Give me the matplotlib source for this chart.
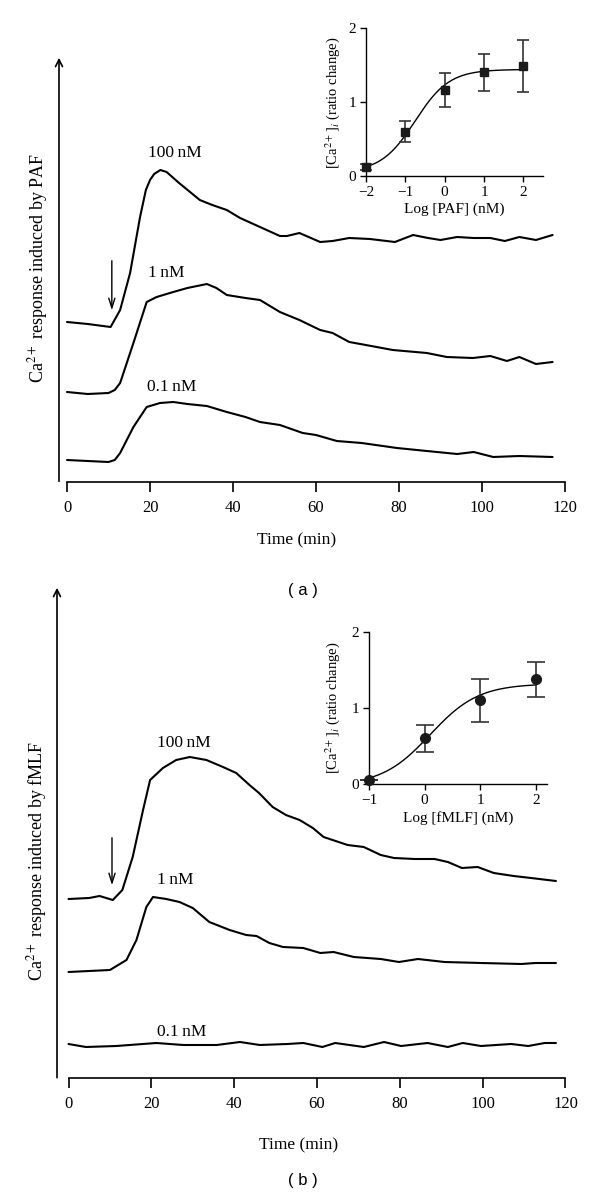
import matplotlib
matplotlib.use("Agg")
import matplotlib.pyplot as plt
import numpy as np

plt.rcParams['font.family'] = ['Liberation Serif', 'DejaVu Serif']
plt.rcParams['mathtext.fontset'] = 'stix'

# ---- panel (a): PAF traces (time in min, response in arbitrary units)
paf_100_t = [0, 5, 10.5, 12.8, 15.2, 17.6, 19, 20, 21, 22.5, 24, 27, 32, 35, 38.5, 41.7, 46.5, 51.3, 53, 56,
             61, 64, 68, 73, 77, 79, 83.4, 87, 90, 94, 98, 102, 105.5, 109, 113, 117]
paf_100_y = [160, 158, 155, 172, 209, 265, 292, 302, 308, 312, 310, 299, 282, 277, 272, 264, 255, 246, 246, 249,
             240, 241, 244, 243, 241, 240, 247, 244, 242, 245, 244, 244, 241, 245, 242, 247]
paf_1_t = [0, 5, 10, 11.5, 12.8, 16, 19.2, 21.6, 25.6, 29, 33.7, 36, 38.5, 43, 46.5, 51.3, 56, 61, 64, 68,
           72, 78.5, 86.7, 91.5, 97.8, 102, 106, 109, 113, 117]
paf_1_y = [90, 88, 89, 92, 99, 139, 180, 185, 190, 194, 198, 194, 187, 184, 182, 170, 162, 152, 149, 140,
           137, 132, 129, 125, 124, 126, 121, 125, 118, 120]
paf_01_t = [0, 5, 10, 11.5, 12.8, 16, 19.2, 22.4, 25.6, 29, 33.7, 38.5, 43, 46.5, 51.3, 56.8, 60, 65, 71,
            79.5, 86.7, 94, 98, 102.7, 109, 117]
paf_01_y = [22, 21, 20, 22, 29, 55, 75, 79, 80, 78, 76, 70, 65, 60, 57, 49, 47, 41, 39,
            34, 31, 28, 30, 25, 26, 25]

# ---- panel (b): fMLF traces
fmlf_100_t = [0, 5, 7.5, 10.7, 13, 15.5, 18, 19.7, 22.8, 26, 29.3, 33.3, 37.3, 40.5, 43.7, 46, 49.3, 52.5,
              55.8, 59, 61.6, 67.4, 71.3, 75.4, 78.6, 83.6, 88.4, 91.6, 95, 98.8, 102.7, 107.5, 111.7, 117.7]
fmlf_100_y = [179, 180, 182, 178, 188, 221, 268, 298, 310, 318, 321, 318, 311, 305, 293, 285, 271, 263,
              258, 250, 241, 233, 231, 223, 220, 219, 219, 216, 210, 211, 205, 202, 200, 197]
fmlf_1_t = [0, 10, 14, 16.4, 18.8, 20.4, 23.6, 26.8, 30, 34, 38.9, 42.9, 45.4, 48.5, 51.8, 56.7, 60.8, 64,
            68.9, 75.4, 79.8, 84.4, 90.8, 99.7, 109.4, 112.7, 117.7]
fmlf_1_y = [106, 108, 118, 138, 171, 181, 179, 176, 170, 156, 148, 143, 142, 135, 131, 130, 125, 126,
            121, 119, 116, 119, 116, 115, 114, 115, 115]
fmlf_01_t = [0, 4.2, 11.5, 21.2, 27.7, 35.8, 41.4, 46.2, 52.8, 56.7, 61.3, 64.4, 71.3, 76.2, 80.3, 86.7,
             91.6, 95.2, 99.6, 106.9, 111, 115, 117.7]
fmlf_01_y = [34, 31, 32, 35, 33, 33, 36, 33, 34, 35, 31, 35, 31, 36, 32, 35,
             31, 35, 32, 34, 32, 35, 35]

# ---- insets: dose response
paf_logc = [-2, -1, 0, 1, 2]
paf_resp = [0.12, 0.6, 1.16, 1.4, 1.49]
paf_err = [0.04, 0.14, 0.23, 0.25, 0.35]
paf_fit = dict(bottom=0.05, top=1.44, logec50=-0.75, hill=1.0)

fmlf_logc = [-1, 0, 1, 2]
fmlf_resp = [0.05, 0.6, 1.1, 1.38]
fmlf_err = [0.0, 0.18, 0.28, 0.23]
fmlf_fit = dict(bottom=-0.02, top=1.32, logec50=0.1, hill=1.0)

W, H = 600, 1199
fig = plt.figure(figsize=(6, 11.99), dpi=100)


def px_axes(left, top, right, bottom):
    return fig.add_axes([left / W, 1 - bottom / H, (right - left) / W, (bottom - top) / H])


def main_panel(ax, traces, labels, arrow, xlim, ylim):
    for t, y in traces:
        ax.plot(t, y, color='black', lw=1.5, solid_joinstyle='round', solid_capstyle='round')
    for x, y, s in labels:
        ax.text(x, y, s, fontsize=12.5, ha='left', va='center')
    ax.annotate('', xy=(arrow[0], arrow[2]), xytext=(arrow[0], arrow[1]),
                arrowprops=dict(arrowstyle='->,head_length=0.7,head_width=0.22', lw=1.0, color='black'))
    ax.set_xlim(*xlim)
    ax.set_ylim(*ylim)
    for s in ['top', 'right', 'left']:
        ax.spines[s].set_visible(False)
    ax.spines['bottom'].set_bounds(0, 120)
    ax.spines['bottom'].set_linewidth(1.2)
    ax.set_xticks(range(0, 121, 20))
    ax.set_yticks([])
    ax.tick_params(axis='x', direction='out', length=7, width=1.2, labelsize=12, pad=6)
    ax.annotate('', xy=(0, 1), xytext=(0, -0.005), xycoords='axes fraction',
                arrowprops=dict(arrowstyle='->,head_length=0.5,head_width=0.25', lw=1.2, color='black'))


def inset(ax, x, y, e, fit, marker, ms, cap, xlim, xticks, xlab):
    xs = np.linspace(x[0], x[-1], 200)
    ys = fit['bottom'] + (fit['top'] - fit['bottom']) / (1 + 10 ** ((fit['logec50'] - xs) * fit['hill']))
    ax.plot(xs, ys, color='black', lw=1.0)
    ax.errorbar(x, y, yerr=e, fmt=marker, color='#1a1a1a', ms=ms, ecolor='#333333', elinewidth=1.2,
                capsize=cap, capthick=1.2, clip_on=False, zorder=3)
    ax.set_xlim(*xlim)
    ax.set_ylim(0, 2)
    ax.set_xticks(xticks)
    ax.set_xticklabels([('\u2212' + str(-v)) if v < 0 else str(v) for v in xticks])
    ax.set_yticks([0, 1, 2])
    for s in ['top', 'right']:
        ax.spines[s].set_visible(False)
    for s in ['left', 'bottom']:
        ax.spines[s].set_linewidth(1.0)
    ax.tick_params(direction='out', length=4, width=1.0, labelsize=11, pad=3)
    ax.set_xlabel(xlab, fontsize=11, labelpad=3)


# panel (a)
axa = px_axes(59, 55, 570, 482)
main_panel(axa, [(paf_100_t, paf_100_y), (paf_1_t, paf_1_y), (paf_01_t, paf_01_y)],
           [(19.5, 329, '100\u2009nM'), (19.5, 209, '1\u2009nM'), (19.3, 95, '0.1\u2009nM')],
           (10.8, 224, 169), (-1.93, 121.2), (0, 427))
fig.text(38 / W, 1 - 268 / H, 'Ca$^{2+}$ response induced by PAF', rotation=90, ha='center', va='center', fontsize=13)
fig.text(297 / W, 1 - 540 / H, 'Time (min)', ha='center', va='center', fontsize=12.5)
fig.text(303 / W, 1 - 591 / H, '( a )', ha='center', va='center', fontsize=12, family='Liberation Sans')

# panel (b)
axb = px_axes(57, 585, 570, 1078)
main_panel(axb, [(fmlf_100_t, fmlf_100_y), (fmlf_1_t, fmlf_1_y), (fmlf_01_t, fmlf_01_y)],
           [(21.4, 335, '100\u2009nM'), (21.4, 198, '1\u2009nM'), (21.4, 46, '0.1\u2009nM')],
           (10.5, 243, 190), (-2.78, 121.1), (0, 493))
fig.text(37 / W, 1 - 861 / H, 'Ca$^{2+}$ response induced by fMLF', rotation=90, ha='center', va='center', fontsize=13)
fig.text(299 / W, 1 - 1145 / H, 'Time (min)', ha='center', va='center', fontsize=12.5)
fig.text(303 / W, 1 - 1180 / H, '( b )', ha='center', va='center', fontsize=12, family='Liberation Sans')

# insets
ia = px_axes(366, 28, 543, 176)
inset(ia, paf_logc, paf_resp, paf_err, paf_fit, 's', 5.5, 4, (-2, 2.5), [-2, -1, 0, 1, 2], 'Log [PAF] (nM)')
fig.text(333 / W, 1 - 103 / H, '[Ca$^{2+}$]$_i$ (ratio change)', rotation=90, ha='center', va='center', fontsize=10.5)

ib = px_axes(369, 632, 547, 784)
inset(ib, fmlf_logc, fmlf_resp, fmlf_err, fmlf_fit, 'o', 7, 6.5, (-1, 2.2), [-1, 0, 1, 2], 'Log [fMLF] (nM)')
fig.text(333 / W, 1 - 708 / H, '[Ca$^{2+}$]$_i$ (ratio change)', rotation=90, ha='center', va='center', fontsize=10.5)

fig.savefig('out.png', dpi=100)
